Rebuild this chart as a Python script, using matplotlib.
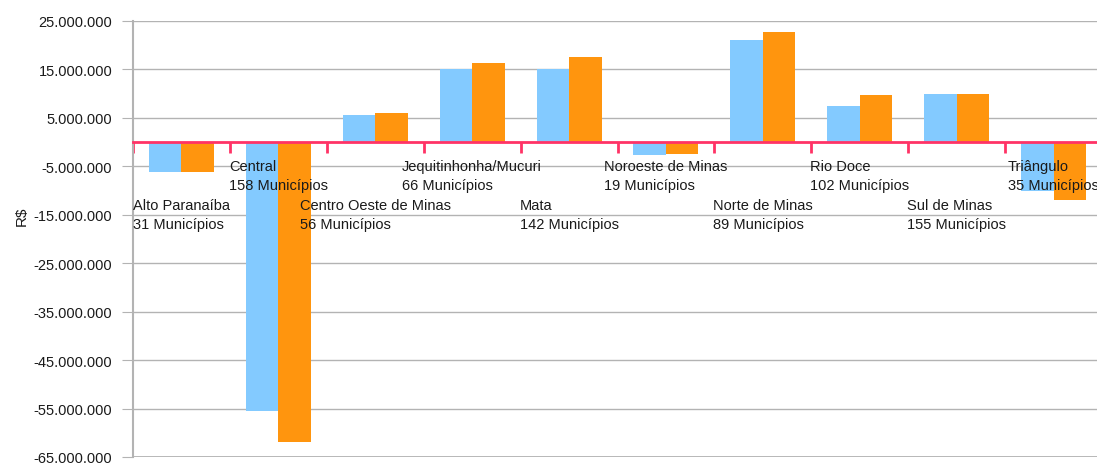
import numpy as np
import matplotlib
matplotlib.use("Agg")
import matplotlib.pyplot as plt
from matplotlib.ticker import FuncFormatter

regioes = ["Alto Paranaíba", "Central", "Centro Oeste de Minas", "Jequitinhonha/Mucuri",
           "Mata", "Noroeste de Minas", "Norte de Minas", "Rio Doce", "Sul de Minas", "Triângulo"]
municipios = [31, 158, 56, 66, 142, 19, 89, 102, 155, 35]
serie_azul = [-6200000, -55600000, 5600000, 15000000, 15000000, -2600000, 21000000, 7400000, 9900000, -10000000]
serie_laranja = [-6200000, -62000000, 6000000, 16300000, 17500000, -2400000, 22700000, 9700000, 9900000, -11900000]
yticks = list(range(-65000000, 25000001, 10000000))

plt.rcParams["font.family"] = ["Liberation Sans", "DejaVu Sans"]

fig = plt.figure(figsize=(10.97, 4.64), dpi=100)
ax = fig.add_axes([133 / 1097, 6 / 464, 969 / 1097, 436 / 464])

n = len(regioes)
centros = np.arange(n) + 0.5
w = 0.335
ax.bar(centros - w / 2, serie_azul, width=w, color="#83CAFF", zorder=2)
ax.bar(centros + w / 2, serie_laranja, width=w, color="#FF950E", zorder=2)

ax.set_xlim(0, n)
ax.set_ylim(yticks[0], yticks[-1])
ax.set_yticks(yticks)
ax.yaxis.set_major_formatter(FuncFormatter(lambda v, p: f"{int(v):,}".replace(",", ".")))
ax.grid(axis="y", color="#b3b3b3", linewidth=1, zorder=0)
ax.tick_params(axis="y", length=8, color="#b3b3b3", labelsize=10.5, labelcolor="#1a1a1a", pad=7)
ax.set_ylabel("R$", fontsize=11, color="#1a1a1a")
ax.yaxis.set_label_coords(-104 / 969, (458 - 216) / 436)

for s in ["top", "right"]:
    ax.spines[s].set_visible(False)
ax.spines["left"].set_color("#b3b3b3")
ax.spines["left"].set_linewidth(1.5)
ax.spines["bottom"].set_position(("data", 0))
ax.spines["bottom"].set_color("#FF3366")
ax.spines["bottom"].set_linewidth(2)
ax.spines["bottom"].set_zorder(3)
ax.axhline(yticks[0], color="#b3b3b3", linewidth=2, zorder=1)

ax.set_xticks(np.arange(n + 1))
ax.set_xticklabels([])
ax.tick_params(axis="x", length=8, width=2, color="#FF3366", direction="out")

for i, (r, m) in enumerate(zip(regioes, municipios)):
    off = -56 if i % 2 == 0 else -17
    ax.annotate(f"{r}\n{m} Municípios", xy=(centros[i], 0), xytext=(0, off),
                textcoords="offset pixels", ha="center", va="top", multialignment="left",
                fontsize=10.5, color="#1a1a1a", linespacing=1.4, zorder=5, annotation_clip=False)

fig.savefig("out.png", dpi=100)
